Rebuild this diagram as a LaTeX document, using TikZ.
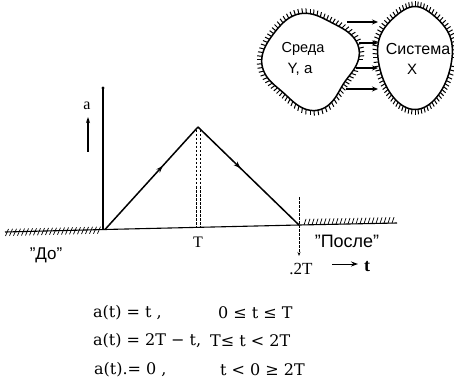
\documentclass[tikz,border=0pt]{standalone}
\usepackage{fontspec}
\setmainfont{Liberation Sans}
\newfontfamily\eqfont{DejaVu Serif}
\newfontfamily\serfont{Liberation Serif}
\usetikzlibrary{arrows.meta,decorations.markings}
\begin{document}
\begin{tikzpicture}[x=1pt,y=-1pt,
  declare function={sr(\t)=46+3*cos(4*\t-40)+2*sin(3*\t);
                    kxf(\t,\d)=415+(37+\d)*cos(\t)*(1+0.05*sin(3*\t));
                    kyf(\t,\d)=58-(50+\d)*sin(\t)*(1+0.03*cos(4*\t));},
  blobline/.style={line width=1.5pt},
  blobtick/.style={line width=1pt},
  flow/.style={line width=1.2pt, -{Stealth[length=6pt,width=5pt]}},
  axisline/.style={line width=1.1pt},
  graphline/.style={line width=1.5pt},
  midarrow/.style={postaction={decorate, decoration={markings,
     mark=at position #1 with {\arrow{Stealth[length=7pt,width=5pt]}}}}},
  hatch/.style={line width=0.7pt},
  dashline/.style={line width=0.6pt, dash pattern=on 2.5pt off 1.5pt},
  lbl/.style={inner sep=0pt},
  eq/.style={inner sep=0pt, anchor=west, font=\eqfont\fontsize{16}{19}\selectfont}
]
\useasboundingbox (0,0) rectangle (454,387);

% blob "Среда"
\draw[blobline] plot[smooth cycle, domain=0:357, samples=120, variable=\t]
  ({310+sr(\t)*cos(\t)},{60-sr(\t)*sin(\t)});
\foreach \t in {0,4.5,...,355}
  \draw[blobtick] ({310+sr(\t)*cos(\t)},{60-sr(\t)*sin(\t)})
     -- ({310+(sr(\t)+5)*cos(\t)},{60-(sr(\t)+5)*sin(\t)});
% blob "Система"
\draw[blobline] plot[smooth cycle, domain=0:357, samples=120, variable=\t]
  ({kxf(\t,0)},{kyf(\t,0)});
\foreach \t in {0,4.5,...,355}
  \draw[blobtick] ({kxf(\t,0)},{kyf(\t,0)}) -- ({kxf(\t,5)},{kyf(\t,5)});

\node[lbl, font=\fontsize{14.5}{17}\selectfont] (sreda) at (303,49) {Среда};
\node[lbl, font=\fontsize{15}{17}\selectfont] (ya) at (300,69) {Y, a};
\node[lbl, font=\fontsize{16}{18}\selectfont] (sistema) at (418,49) {Система};
\node[lbl, font=\fontsize{15}{17}\selectfont] (xx) at (412,69) {X};

% arrows between blobs
\coordinate (a1s) at (347,22); \coordinate (a1e) at (378,22);
\coordinate (a2s) at (359,43); \coordinate (a2e) at (378,43);
\coordinate (a3s) at (356,68); \coordinate (a3e) at (378,68);
\coordinate (a4s) at (346,89); \coordinate (a4e) at (378,89);
\draw[flow] (a1s) -- (a1e);
\draw[flow] (a2s) -- (a2e);
\draw[flow] (a3s) -- (a3e);
\draw[flow] (a4s) -- (a4e);

% axes
\coordinate (L) at (5,232);
\coordinate (O) at (105,229.5);
\coordinate (P) at (198,127);
\coordinate (E) at (299,225);
\coordinate (R) at (397,223);
\coordinate (Vtop) at (103,88);
\coordinate (Vbot) at (103,229.5);
\draw[axisline] (L) -- (O) -- (E) -- (R);
\draw[axisline] (Vbot) -- (Vtop);
\fill (Vtop) circle (1.6);

% hatching
\foreach \x in {7,11,...,99}
  \draw[hatch] ({\x-1.5},{232-(\x-5)*0.025+4}) -- ({\x+1.5},{232-(\x-5)*0.025-3});
\foreach \x in {304,308,...,392}
  \draw[hatch] ({\x},{225-(\x-299)*0.02}) -- ({\x+2},{225-(\x-299)*0.02-6});

% graph
\draw[graphline, midarrow=0.62] (O) -- (P);
\draw[graphline, midarrow=0.42] (P) -- (E);

% dashed verticals
\coordinate (D1t) at (196,130); \coordinate (D1b) at (196,228);
\coordinate (D2t) at (200,130); \coordinate (D2b) at (200,228);
\draw[dashline] (D1t) -- (D1b);
\draw[dashline] (D2t) -- (D2b);
\coordinate (E2t) at (299,197); \coordinate (E2b) at (299,256);
\draw[dashline, -{Stealth[length=4pt,width=3pt]}] (E2t) -- (E2b);

% a label and arrow
\node[lbl, font=\serfont\fontsize{16}{18}\selectfont] (alab) at (87,106) {a};
\coordinate (aas) at (88,152); \coordinate (aae) at (88,117);
\draw[line width=1.1pt, -{Stealth[length=6pt,width=4pt]}] (aas) -- (aae);

% axis labels
\node[lbl, font=\serfont\fontsize{16}{18}\selectfont] (Tl) at (198,242) {T};
\node[lbl, font=\fontsize{17}{19}\selectfont] (do) at (46,255) {”До”};
\node[lbl, font=\fontsize{18}{20}\selectfont] (posle) at (347,241) {”После”};
\node[lbl, font=\serfont\fontsize{17}{19}\selectfont] (twoT) at (301,269) {.2T};
\coordinate (ts) at (332,264); \coordinate (te) at (358,264);
\draw[line width=1pt, -{Stealth[length=7pt,width=5pt]}] (ts) -- (te);
\node[lbl, font=\serfont\bfseries\fontsize{18}{20}\selectfont] (tl) at (367,267) {t};

% equations
\node[eq] (e1l) at (93,313) {a(t) = t ,};
\node[eq] (e1r) at (218,313) {0 ≤ t ≤ T};
\node[eq] (e2l) at (93,341) {a(t) = 2T − t,};
\node[eq] (e2r) at (210,341) {T≤ t < 2T};
\node[eq] (e3l) at (94,370) {a(t).= 0 ,};
\node[eq] (e3r) at (220,370) {t < 0 ≥ 2T};
\end{tikzpicture}
\end{document}
